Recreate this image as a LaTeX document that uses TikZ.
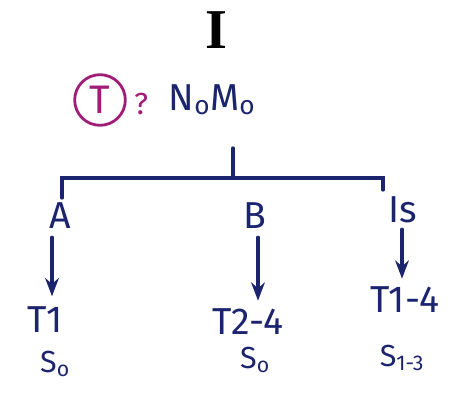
\documentclass[tikz,border=0pt]{standalone}
\usepackage{fontspec}
\setmainfont{Fira Sans}
\newfontfamily\romfont{Liberation Serif}
\usepackage{tikz}
\usetikzlibrary{arrows.meta,positioning}
\definecolor{ink}{RGB}{28,36,110}
\definecolor{pink}{RGB}{160,30,120}

\begin{document}
\begin{tikzpicture}[x=0.03cm,y=-0.03cm,>=Stealth,
  lbl/.style={text=ink,font=\fontsize{32}{34}\selectfont,inner sep=3pt},
  sub/.style={text=ink,font=\fontsize{26}{28}\selectfont,inner sep=2pt},
  wire/.style={ink,line width=2.8pt,line cap=round},
  tumor/.style={circle,draw=pink,line width=2.4pt,text=pink,inner sep=5pt,font=\fontsize{34}{36}\selectfont}]
\useasboundingbox(0,0)rectangle(470,394);
\node[font=\romfont\bfseries\fontsize{48}{50}\selectfont](stage)at(216,30){I};
\node[tumor](tee)at(100,100){T};
\node[text=pink,font=\fontsize{26}{28}\selectfont](ask)at(141,104){?};
\node[lbl](nm)at(212,100){N\textsubscript{o}M\textsubscript{o}};
\coordinate(top)at(233,148);
\coordinate(junc)at(233,178);
\node[lbl](a)at(60,216){A};
\node[lbl](b)at(255,216){B};
\node[lbl](is)at(403,210){Is};
\node[lbl](t1)at(45,320){T1};
\node[lbl](t24)at(248,322){T2-4};
\node[lbl](t14)at(405,300){T1-4};
\node[sub](s1)at(55,364){S\textsubscript{o}};
\node[sub](s2)at(255,360){S\textsubscript{o}};
\node[sub](s3)at(402,358){S\textsubscript{1-3}};
\coordinate(lft)at(62,198);
\coordinate(rgt)at(383,190);
\draw[wire](top)--(junc);
\draw[wire](lft)|-(junc)-|(rgt);
\draw[wire,->,shorten <=4pt,shorten >=6pt](a.south -| 52,0)--(t1.north -| 52,0);
\draw[wire,->,shorten <=4pt,shorten >=4pt](b.south -| 258,0)--(t24.north -| 258,0);
\draw[wire,->,shorten <=2pt,shorten >=4pt](is.south -| 402,0)--(t14.north -| 402,0);
\end{tikzpicture}
\end{document}
